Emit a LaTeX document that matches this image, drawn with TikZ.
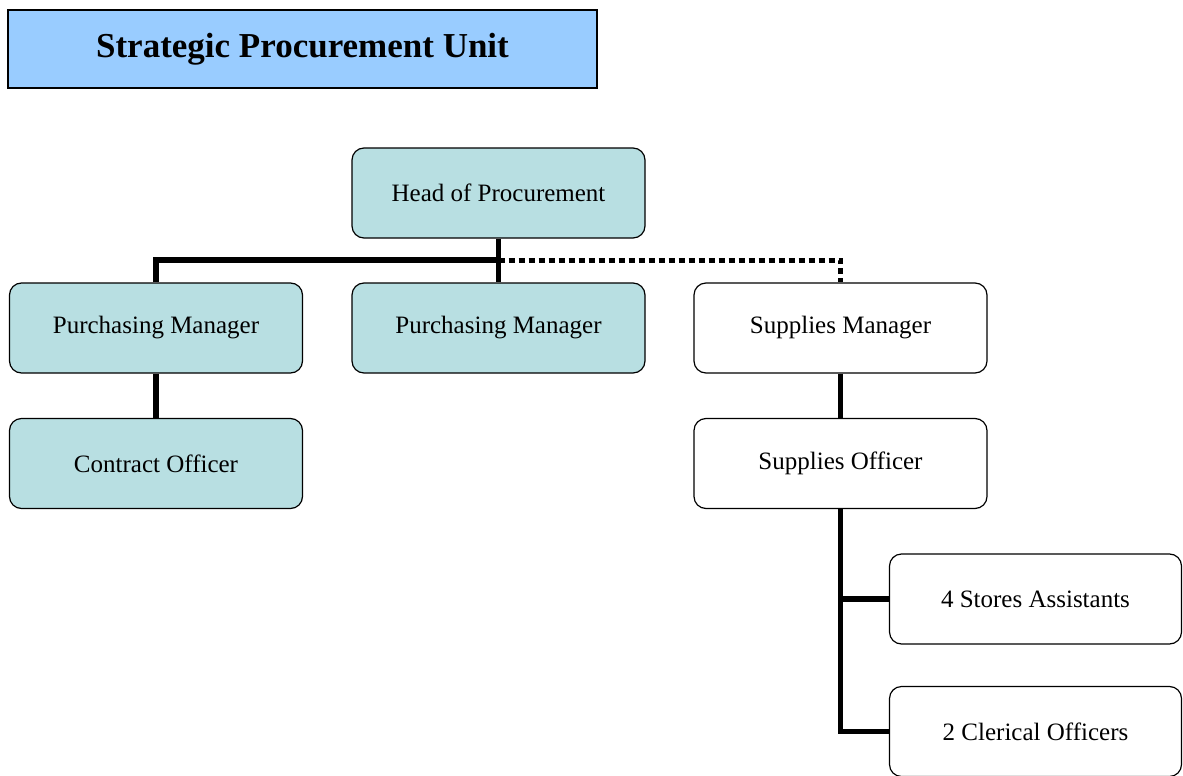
\documentclass[tikz,border=0pt]{standalone}
\usepackage{fontspec}
\setmainfont{Liberation Serif}
\usepackage{tikz}
\definecolor{titlecolor}{RGB}{153, 204, 255}
\definecolor{postcolor}{RGB}{184, 223, 226}

\begin{document}
\begin{tikzpicture}[x=1pt, y=-1pt,
    post/.style={draw, rounded corners=12pt, line width=1.2pt, minimum width=293pt,
                 minimum height=90pt, font=\fontsize{25}{30}\selectfont},
    link/.style={line width=5.5pt},
    dots/.style={line width=5pt, dash pattern=on 6pt off 4pt}]
            \useasboundingbox (0,0) rectangle (1183,776);
            \node[draw, fill=titlecolor, line width=1.5pt, minimum width=589pt, minimum height=78pt,
                  font=\fontsize{35}{42}\selectfont\bfseries] (unit) at (302.5,49) {Strategic Procurement Unit};
            \node[post, fill=postcolor] (head) at (498.5,193) {Head of Procurement};
            \node[post, fill=postcolor] (pm1) at (156,328) {Purchasing Manager};
            \node[post, fill=postcolor] (pm2) at (498.5,328) {Purchasing Manager};
            \node[post] (sm) at (840.5,328) {Supplies Manager};
            \node[post, fill=postcolor] (co) at (156,463.5) {Contract Officer};
            \node[post] (so) at (840.5,463.5) {Supplies Officer};
            \node[post, minimum width=292pt] (sa) at (1035.5,599) {4 Stores Assistants};
            \node[post, minimum width=292pt] (clo) at (1035.5,731.5) {2 Clerical Officers};
            \coordinate (hj) at (498.5,260);
            \draw[link] (head.south) -- (pm2.north);
            \draw[link] (pm1.north) |- (hj);
            \draw[dots] (hj) -| (sm.north);
            \draw[link] (pm1) -- (co);
            \draw[link] (sm) -- (so);
            \draw[link] (so.south) |- (clo.west);
            \draw[link] (so.south |- sa.west) -- (sa.west);
        \end{tikzpicture}
\end{document}
